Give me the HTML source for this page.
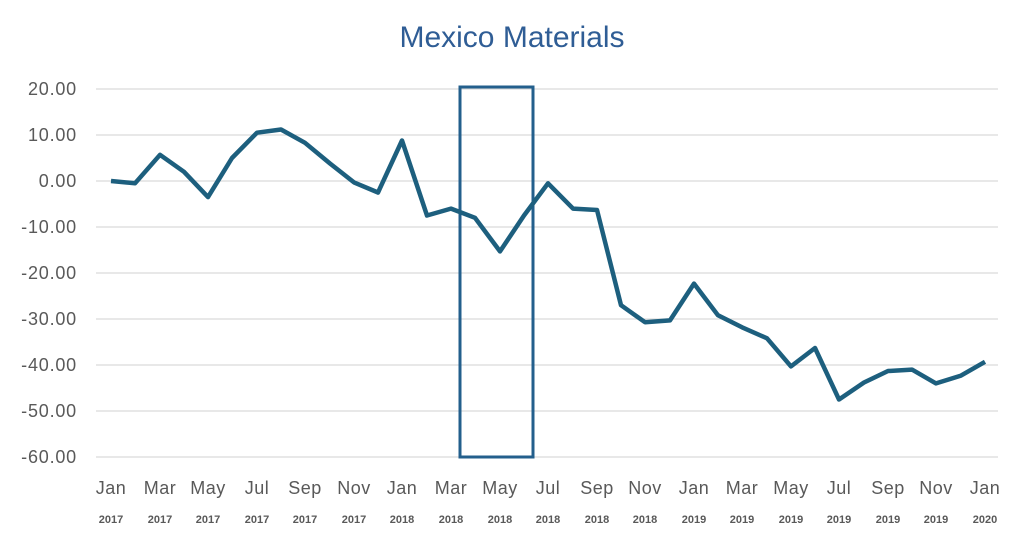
<!DOCTYPE html>
<html><head><meta charset="utf-8"><style>
html,body{margin:0;padding:0;background:#fff;}
svg{display:block;font-family:"Liberation Sans",sans-serif;}
</style></head><body>
<svg width="1024" height="541" viewBox="0 0 1024 541" xmlns="http://www.w3.org/2000/svg">
<text x="512" y="47" text-anchor="middle" font-size="30" fill="#2f5d95">Mexico Materials</text>
<g stroke="#d9d9d9" stroke-width="1.2">
<line x1="96" x2="998" y1="89" y2="89"/><line x1="96" x2="998" y1="135" y2="135"/>
<line x1="96" x2="998" y1="181" y2="181"/><line x1="96" x2="998" y1="227" y2="227"/>
<line x1="96" x2="998" y1="273" y2="273"/><line x1="96" x2="998" y1="319" y2="319"/>
<line x1="96" x2="998" y1="365" y2="365"/><line x1="96" x2="998" y1="411" y2="411"/>
<line x1="96" x2="998" y1="457" y2="457"/>
</g>
<g font-size="18" fill="#595959" text-anchor="end" letter-spacing="0.8">
<text x="77" y="95">20.00</text><text x="77" y="141">10.00</text><text x="77" y="187">0.00</text>
<text x="77" y="233">-10.00</text><text x="77" y="279">-20.00</text><text x="77" y="325">-30.00</text>
<text x="77" y="371">-40.00</text><text x="77" y="417">-50.00</text><text x="77" y="463">-60.00</text>
</g>
<g font-size="18" fill="#595959" text-anchor="middle" letter-spacing="0.5">
<text x="111" y="494">Jan</text><text x="160" y="494">Mar</text><text x="208" y="494">May</text>
<text x="257" y="494">Jul</text><text x="305" y="494">Sep</text><text x="354" y="494">Nov</text>
<text x="402" y="494">Jan</text><text x="451" y="494">Mar</text><text x="500" y="494">May</text>
<text x="548" y="494">Jul</text><text x="597" y="494">Sep</text><text x="645" y="494">Nov</text>
<text x="694" y="494">Jan</text><text x="742" y="494">Mar</text><text x="791" y="494">May</text>
<text x="839" y="494">Jul</text><text x="888" y="494">Sep</text><text x="936" y="494">Nov</text>
<text x="985" y="494">Jan</text>
</g>
<g font-size="11" font-weight="bold" fill="#595959" text-anchor="middle">
<text x="111" y="523">2017</text><text x="160" y="523">2017</text><text x="208" y="523">2017</text>
<text x="257" y="523">2017</text><text x="305" y="523">2017</text><text x="354" y="523">2017</text>
<text x="402" y="523">2018</text><text x="451" y="523">2018</text><text x="500" y="523">2018</text>
<text x="548" y="523">2018</text><text x="597" y="523">2018</text><text x="645" y="523">2018</text>
<text x="694" y="523">2019</text><text x="742" y="523">2019</text><text x="791" y="523">2019</text>
<text x="839" y="523">2019</text><text x="888" y="523">2019</text><text x="936" y="523">2019</text>
<text x="985" y="523">2020</text>
</g>
<rect x="460" y="87" width="73" height="370" fill="none" stroke="#235f8c" stroke-width="3"/>
<polyline fill="none" stroke="#1d5f7e" stroke-width="4.5" stroke-linejoin="round" points="
111,181 135,183.3 160,154.8 184,171.8 208,197.1 232,158 257,132.7 281,129.5 305,142.8 330,163.5 354,182.4 378,192.5
402,140.5 427,215.5 451,208.6 475,217.8 500,251.4 524,215.5 548,183.3 573,208.6 597,210 621,305.2 645,322.2 670,320.4
694,283.6 718,315.3 742,327.3 767,338.3 791,366.4 815,348 839,399.5 864,382.5 888,371 912,369.6 936,383.4 961,375.6 985,361.8"/>
</svg>
</body></html>
